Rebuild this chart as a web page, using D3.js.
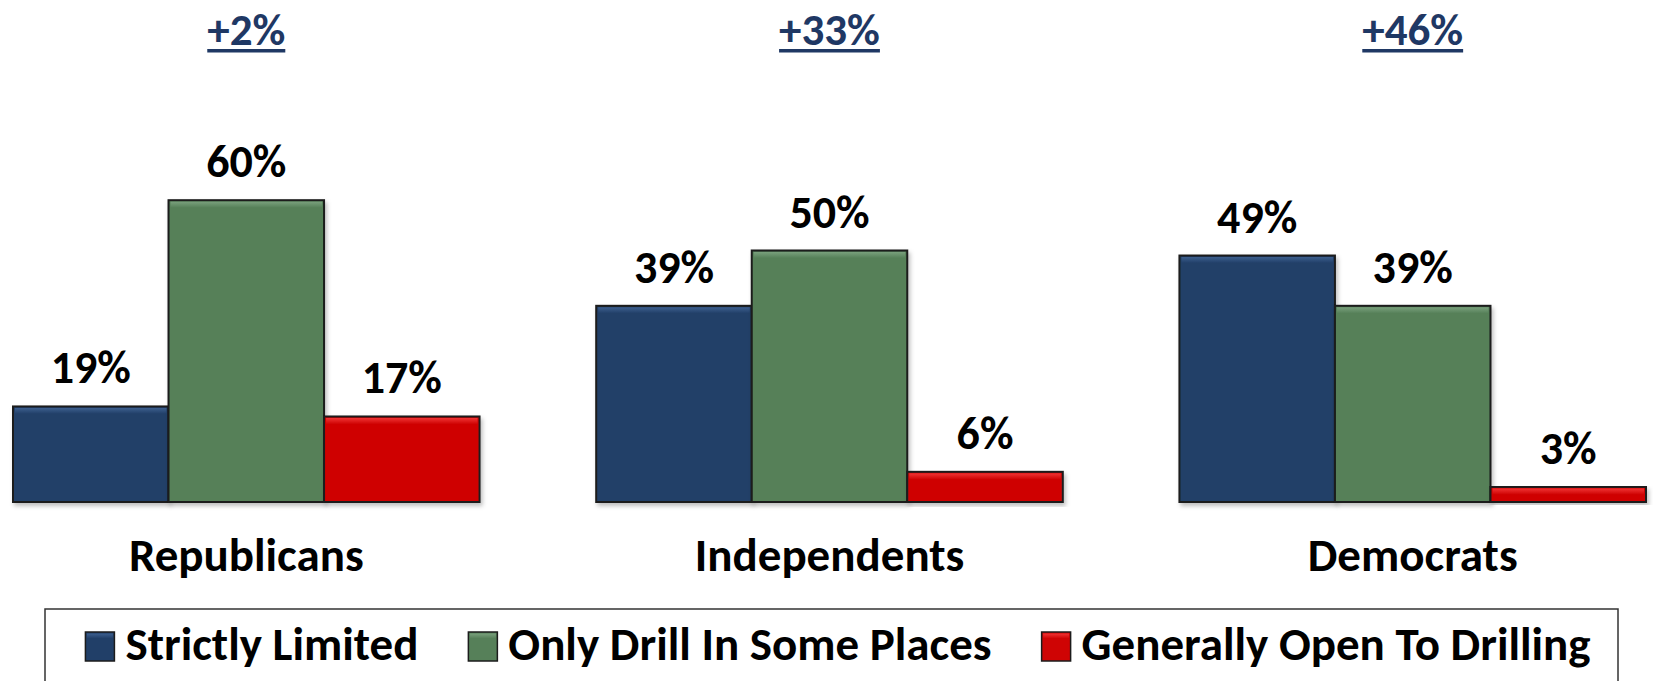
<!DOCTYPE html>
<html>
<head>
<meta charset="utf-8">
<title>Drilling by party</title>
<script src="https://d3js.org/d3.v7.min.js"></script>
<style>
  body { margin: 0; background: #fff; }
  text { font-family: Carlito, Lato, "Open Sans", sans-serif; font-weight: bold; }
</style>
</head>
<body>
<script>
const parties = ["Republicans", "Independents", "Democrats"];
const series = ["Strictly Limited", "Only Drill In Some Places", "Generally Open To Drilling"];
const strictly = [19, 39, 49];
const someplaces = [60, 50, 39];
const open = [17, 6, 3];
const margins = ["+2%", "+33%", "+46%"];

const colors = ["#213f68", "#568059", "#cf0404"];
const light = ["#3d5f8e", "#79a07c", "#f03434"];

const w = 1653, h = 681;
const base = 502;

const svg = d3.select("body").append("svg")
    .attr("width", w)
    .attr("height", h);

const defs = svg.append("defs");
const shadow = defs.append("filter").attr("id", "shadow")
    .attr("x", "-5%").attr("y", "-5%").attr("width", "115%").attr("height", "120%");
shadow.append("feDropShadow")
    .attr("dx", 2).attr("dy", 3).attr("stdDeviation", 2)
    .attr("flood-color", "#000").attr("flood-opacity", 0.25);

colors.forEach((c, i) => {
    const g = defs.append("linearGradient").attr("id", "grad" + i)
        .attr("x1", 0).attr("y1", 0).attr("x2", 0).attr("y2", 1);
    g.append("stop").attr("offset", "0%").attr("stop-color", light[i]);
    g.append("stop").attr("offset", "100%").attr("stop-color", c);
});

const x0 = d3.scaleBand()
    .domain(parties)
    .range([13, 1646])
    .paddingInner(0.2);

const x1 = d3.scaleBand()
    .domain(series)
    .range([0, x0.bandwidth()]);

const y = d3.scaleLinear()
    .domain([0, 100])
    .range([base, base - 503]);

const rows = parties.map((p, i) => ({
    party: p,
    margin: margins[i],
    vals: [strictly[i], someplaces[i], open[i]]
}));

const groups = svg.selectAll("g.party")
    .data(rows)
    .enter().append("g")
    .attr("class", "party")
    .attr("transform", d => "translate(" + x0(d.party) + ",0)");

const bars = groups.selectAll("g.bar")
    .data(d => d.vals.map((v, j) => ({ s: series[j], v: v, j: j })))
    .enter().append("g")
    .attr("class", "bar");

bars.append("rect")
    .attr("x", d => x1(d.s))
    .attr("y", d => y(d.v))
    .attr("width", x1.bandwidth())
    .attr("height", d => base - y(d.v))
    .attr("fill", d => colors[d.j])
    .attr("stroke", "#1c1c1c")
    .attr("stroke-width", 2)
    .attr("filter", "url(#shadow)");

// bevel highlight along the top
bars.append("rect")
    .attr("x", d => x1(d.s) + 2)
    .attr("y", d => y(d.v) + 1.5)
    .attr("width", x1.bandwidth() - 4)
    .attr("height", d => Math.min(6, base - y(d.v) - 3))
    .attr("fill", d => "url(#grad" + d.j + ")");

bars.append("text")
    .attr("x", d => x1(d.s) + x1.bandwidth() / 2)
    .attr("y", d => y(d.v) - 23)
    .attr("text-anchor", "middle")
    .style("font-size", "46px")
    .attr("fill", "#000")
    .text(d => d.v + "%");

groups.append("text")
    .attr("x", x0.bandwidth() / 2)
    .attr("y", 571)
    .attr("text-anchor", "middle")
    .style("font-size", "47px")
    .text(d => d.party);

const tops = groups.append("text")
    .attr("x", x0.bandwidth() / 2)
    .attr("y", 45)
    .attr("text-anchor", "middle")
    .style("font-size", "45px")
    .attr("fill", "#1f3864")
    .text(d => d.margin);

tops.each(function () {
    const tw = this.getComputedTextLength();
    d3.select(this.parentNode).append("rect")
        .attr("x", x0.bandwidth() / 2 - tw / 2)
        .attr("y", 49)
        .attr("width", tw)
        .attr("height", 3.5)
        .attr("fill", "#1f3864");
});

// legend
svg.append("rect")
    .attr("x", 45)
    .attr("y", 609)
    .attr("width", 1573)
    .attr("height", 120)
    .attr("fill", "none")
    .attr("stroke", "#333")
    .attr("stroke-width", 1.5);

const legend = svg.append("g");
const items = legend.selectAll("g")
    .data(series)
    .enter().append("g");

items.append("rect")
    .attr("width", 29)
    .attr("height", 29)
    .attr("y", 632)
    .attr("fill", (d, i) => colors[i])
    .attr("stroke", "#1c1c1c")
    .attr("stroke-width", 1.5);

items.append("rect")
    .attr("x", 1.5)
    .attr("y", 633.5)
    .attr("width", 26)
    .attr("height", 5)
    .attr("fill", (d, i) => "url(#grad" + i + ")");

items.append("text")
    .attr("x", 40)
    .attr("y", 660)
    .style("font-size", "47px")
    .text(d => d);

let lx = 0;
const pos = [];
items.each(function () {
    const tw = d3.select(this).select("text").node().getComputedTextLength();
    pos.push(lx);
    lx += 40 + tw + 50;
});
lx -= 50;
const start = 838 - lx / 2;
items.attr("transform", (d, i) => "translate(" + (start + pos[i]) + ",0)");
</script>
</body>
</html>
